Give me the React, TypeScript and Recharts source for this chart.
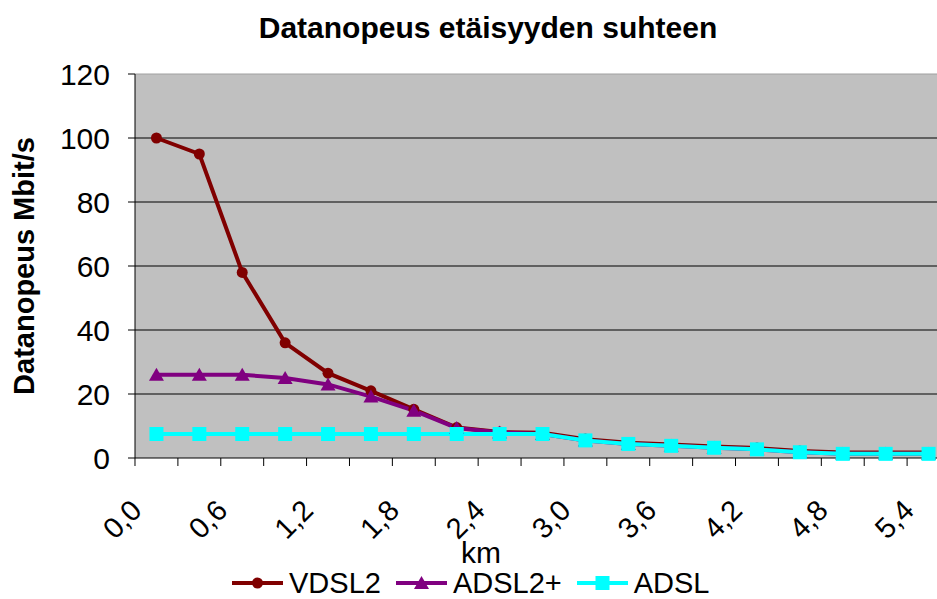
import React from 'react';
import { LineChart, Line, XAxis, YAxis, CartesianGrid, Legend, ReferenceLine } from 'recharts';

const km = [0, 0.3, 0.6, 0.9, 1.2, 1.5, 1.8, 2.1, 2.4, 2.7, 3.0, 3.3, 3.6, 3.9, 4.2, 4.5, 4.8, 5.1, 5.4];
const vdsl2 = [100, 95, 58, 36, 26.5, 21, 15.2, 9.5, 8.1, 7.9, 5.9, 4.8, 4.2, 3.6, 3.1, 2.2, 1.7, 1.7, 1.7];
const adsl2plus = [26, 26, 26, 25, 23, 19.2, 14.8, 9.4, 8.0, 7.5, 5.5, 4.4, 3.8, 3.2, 2.7, 1.8, 1.3, 1.3, 1.3];
const adsl = [7.5, 7.5, 7.5, 7.5, 7.5, 7.5, 7.5, 7.5, 7.5, 7.5, 5.5, 4.4, 3.8, 3.2, 2.7, 1.8, 1.3, 1.3, 1.3];
const yTicks = [0, 20, 40, 60, 80, 100, 120];

const data = km.map((d, i) => ({ km: d, VDSL2: vdsl2[i], 'ADSL2+': adsl2plus[i], ADSL: adsl[i] }));

const FONT = '"Liberation Sans", Arial, sans-serif';
const COLORS = { VDSL2: '#800000', 'ADSL2+': '#800080', ADSL: '#00FFFF' };

// half of one category step in px (plot 815px wide over 5.7 km)
const HALF = 21.45;

const KmTick = (props: any) => {
  const { x, y, payload } = props;
  const i = km.indexOf(payload.value);
  const last = i === km.length - 1;
  return (
    <g>
      <line x1={x - HALF} y1={y} x2={x - HALF} y2={y + 8} stroke="#000" />
      {last && <line x1={x + HALF} y1={y} x2={x + HALF} y2={y + 8} stroke="#000" />}
      {i % 2 === 0 && (
        <text
          x={x - 13}
          y={y + 54}
          textAnchor="end"
          transform={`rotate(-45 ${x - 13} ${y + 54})`}
          fontSize={29}
          fontFamily={FONT}
          fill="#000"
        >
          {payload.value.toFixed(1).replace('.', ',')}
        </text>
      )}
    </g>
  );
};

const Circle = (p: any) => (
  <circle key={p.index} cx={p.cx} cy={p.cy} r={5.5} fill={COLORS.VDSL2} />
);
const Triangle = (p: any) => (
  <path
    key={p.index}
    d={`M${p.cx - 7.5},${p.cy + 6} L${p.cx + 7.5},${p.cy + 6} L${p.cx},${p.cy - 7} Z`}
    fill={COLORS['ADSL2+']}
  />
);
const Square = (p: any) => (
  <rect key={p.index} x={p.cx - 7} y={p.cy - 7} width={14} height={14} fill={COLORS.ADSL} />
);

const markers: Record<string, (cx: number, cy: number) => React.ReactNode> = {
  VDSL2: (cx, cy) => <circle cx={cx} cy={cy} r={5.5} fill={COLORS.VDSL2} />,
  'ADSL2+': (cx, cy) => (
    <path d={`M${cx - 7.5},${cy + 6} L${cx + 7.5},${cy + 6} L${cx},${cy - 7} Z`} fill={COLORS['ADSL2+']} />
  ),
  ADSL: (cx, cy) => <rect x={cx - 7} y={cy - 7} width={14} height={14} fill={COLORS.ADSL} />,
};

const renderLegend = () => (
  <div style={{ display: 'flex', alignItems: 'center', paddingLeft: 232, fontFamily: FONT, fontSize: 29, lineHeight: '30px' }}>
    {(['VDSL2', 'ADSL2+', 'ADSL'] as const).map((name) => (
      <div key={name} style={{ display: 'flex', alignItems: 'center', marginRight: 15 }}>
        <svg width={51} height={20} style={{ marginRight: 6 }}>
          <line x1={0} y1={10} x2={51} y2={10} stroke={COLORS[name]} strokeWidth={4} />
          {markers[name](25.5, 10)}
        </svg>
        <span>{name}</span>
      </div>
    ))}
  </div>
);

const App = () => {
  return (
    <div style={{ position: 'fixed', left: 0, top: 0, width: 937, height: 599, overflow: 'hidden', background: '#fff' }}>
      <div
        style={{
          position: 'absolute',
          left: 0,
          top: 13,
          width: 976,
          textAlign: 'center',
          fontFamily: FONT,
          fontWeight: 'bold',
          fontSize: 30,
          lineHeight: '30px',
        }}
      >
        Datanopeus etäisyyden suhteen
      </div>
      <LineChart width={976} height={599} data={data} margin={{ top: 74, right: 26, left: 0, bottom: 81 }}>
        <CartesianGrid vertical={false} stroke="#000" fill="#C0C0C0" horizontalValues={[20, 40, 60, 80, 100]} />
        <ReferenceLine y={120} stroke="#a0a0a0" />
        <XAxis
          type="number"
          dataKey="km"
          domain={[-0.15, 5.55]}
          allowDataOverflow
          ticks={km}
          interval={0}
          tickSize={0}
          tickMargin={0}
          tickLine={false}
          tick={<KmTick />}
          axisLine={{ stroke: '#000' }}
          height={60}
          label={{
            content: (p: any) => (
              <text x={p.viewBox.x + 346} y={p.viewBox.y + 105} textAnchor="middle" fontSize={30} fontFamily={FONT} fill="#000">
                km
              </text>
            ),
          }}
        />
        <YAxis
          width={135}
          domain={[0, 120]}
          ticks={yTicks}
          interval={0}
          tickSize={7}
          tickMargin={18}
          tick={{ fontSize: 30, fontFamily: FONT, fill: '#000' }}
          tickLine={{ stroke: '#000' }}
          axisLine={{ stroke: '#000' }}
          label={{
            content: (p: any) => {
              const cx = 24;
              const cy = p.viewBox.y + p.viewBox.height / 2;
              return (
                <text
                  x={cx}
                  y={cy}
                  textAnchor="middle"
                  dominantBaseline="central"
                  transform={`rotate(-90 ${cx} ${cy})`}
                  fontSize={29}
                  fontWeight="bold"
                  fontFamily={FONT}
                  fill="#000"
                >
                  Datanopeus Mbit/s
                </text>
              );
            },
          }}
        />
        <Line dataKey="VDSL2" stroke={COLORS.VDSL2} strokeWidth={4} dot={Circle} activeDot={false} isAnimationActive={false} />
        <Line dataKey="ADSL2+" stroke={COLORS['ADSL2+']} strokeWidth={4} dot={Triangle} activeDot={false} isAnimationActive={false} />
        <Line dataKey="ADSL" stroke={COLORS.ADSL} strokeWidth={4} dot={Square} activeDot={false} isAnimationActive={false} />
        <Legend
          layout="vertical"
          align="center"
          verticalAlign="middle"
          content={renderLegend}
          wrapperStyle={{ top: 568, left: 0, width: 976, height: 30 }}
        />
      </LineChart>
    </div>
  );
};

export default App;
